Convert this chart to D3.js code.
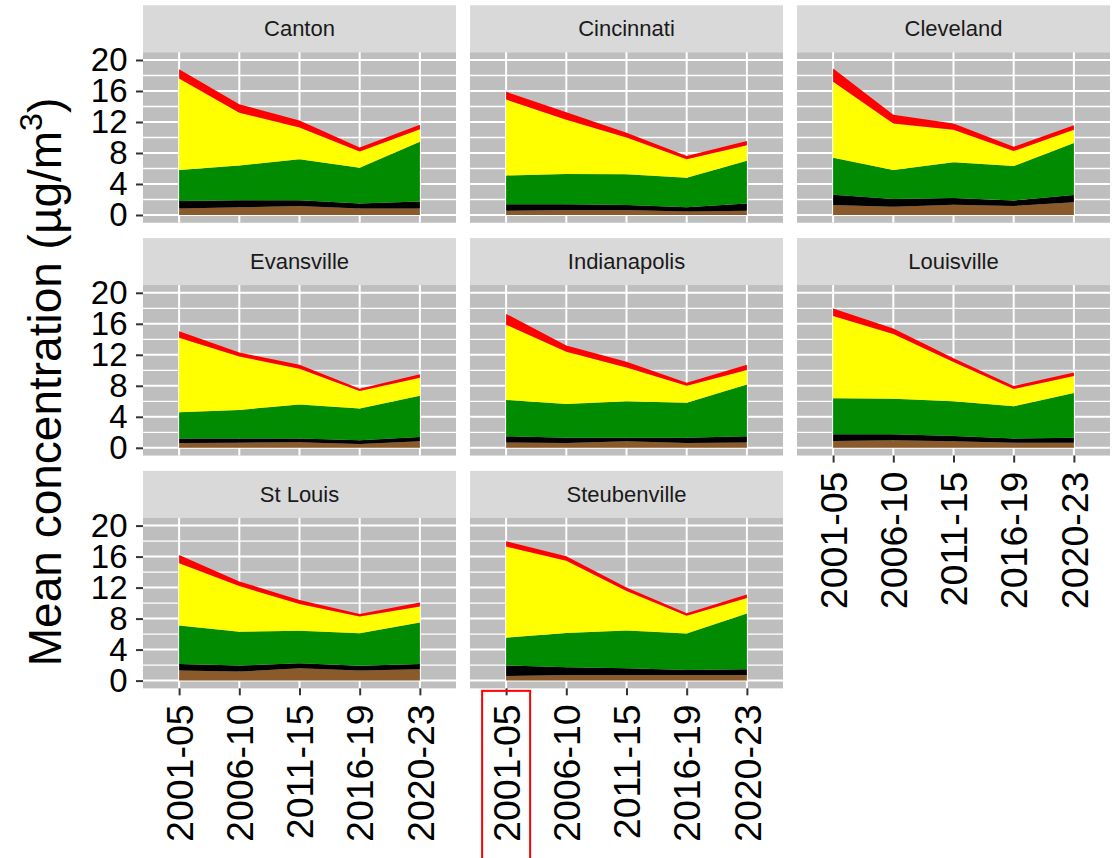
<!DOCTYPE html>
<html>
<head>
<meta charset="utf-8">
<script src="https://cdn.jsdelivr.net/npm/d3@7"></script>
<style>
  body { margin: 0; background: #fff; }
  svg { display: block; font-family: "Liberation Sans", Arial, sans-serif; }
</style>
</head>
<body>
<div id="app"></div>
<script>
const periods = ["2001-05", "2006-10", "2011-15", "2016-19", "2020-23"];
const cities = ["Canton", "Cincinnati", "Cleveland", "Evansville", "Indianapolis", "Louisville", "St Louis", "Steubenville"];

// one row per city (same order as cities), one value per period
const soil = [
  [0.85, 1.0, 1.15, 0.85, 0.85],
  [0.55, 0.65, 0.65, 0.45, 0.55],
  [1.3, 1.07, 1.33, 1.16, 1.64],
  [0.62, 0.66, 0.7, 0.5, 0.84],
  [0.67, 0.62, 0.84, 0.62, 0.67],
  [0.88, 0.97, 0.84, 0.66, 0.66],
  [1.29, 1.16, 1.6, 1.29, 1.47],
  [0.6, 0.73, 0.73, 0.73, 0.73]
];
const ec = [
  [0.95, 0.9, 0.75, 0.65, 0.9],
  [0.85, 0.75, 0.65, 0.55, 0.95],
  [1.3, 1.0, 0.87, 0.7, 0.95],
  [0.57, 0.53, 0.5, 0.47, 0.56],
  [0.81, 0.68, 0.46, 0.68, 0.81],
  [0.86, 0.77, 0.68, 0.53, 0.64],
  [0.86, 0.78, 0.64, 0.61, 0.68],
  [1.34, 1.0, 0.87, 0.65, 0.74]
];
const om = [
  [4.0, 4.5, 5.3, 4.6, 7.7],
  [3.7, 3.9, 3.95, 3.8, 5.5],
  [4.8, 3.75, 4.6, 4.45, 6.7],
  [3.4, 3.7, 4.4, 4.1, 5.3],
  [4.7, 4.35, 4.7, 4.5, 6.7],
  [4.66, 4.6, 4.5, 4.16, 5.77],
  [4.95, 4.36, 4.2, 4.2, 5.35],
  [3.6, 4.4, 4.85, 4.7, 7.2]
];
const sulfate = [
  [11.8, 6.8, 4.1, 2.1, 1.6],
  [9.8, 7.0, 4.75, 2.4, 2.0],
  [9.8, 6.0, 4.2, 1.95, 1.7],
  [9.6, 6.9, 4.6, 2.25, 2.35],
  [9.7, 6.75, 4.35, 2.2, 1.85],
  [10.6, 8.35, 5.05, 2.25, 2.2],
  [8.05, 5.9, 3.45, 2.16, 2.05],
  [11.75, 9.35, 5.1, 2.3, 2.0]
];
const other = [
  [1.2, 1.1, 0.9, 0.5, 0.6],
  [1.0, 0.95, 0.6, 0.4, 0.55],
  [1.7, 1.1, 0.8, 0.55, 0.6],
  [0.85, 0.5, 0.5, 0.3, 0.45],
  [1.4, 0.8, 0.75, 0.4, 0.7],
  [0.96, 0.7, 0.5, 0.37, 0.43],
  [1.05, 0.6, 0.5, 0.34, 0.52],
  [0.7, 0.55, 0.45, 0.3, 0.45]
];
const yTicks = [0, 4, 8, 12, 16, 20];

const species = ["soil", "ec", "om", "sulfate", "other"];
const seriesData = { soil, ec, om, sulfate, other };
const fills = {
  soil: "#8B5A2B",
  ec: "#000000",
  om: "#008B00",
  sulfate: "#FFFF00",
  other: "#FF0000"
};

const width = 1114;
const height = 858;
const panelW = 313;
const panelH = 170.5;
const stripH = 47;
const colStep = 327;
const rowStep = 232.8;
const panelLeft = 143;
const panelTop = 52.25;

const svg = d3
  .select("#app")
  .append("svg")
  .attr("width", width)
  .attr("height", height);

svg.append("rect").attr("width", width).attr("height", height).attr("fill", "#fff");

const x = d3.scalePoint().domain(periods).range([0, panelW]).padding(0.6);
const y = d3.scaleLinear().domain([-1, 21]).range([panelH, 0]);

const stack = d3.stack().keys(species);
const area = d3
  .area()
  .x(d => x(d.data.period))
  .y0(d => y(d[0]))
  .y1(d => y(d[1]));

const panels = cities.map((city, i) => {
  const rows = periods.map((period, j) => {
    const row = { period };
    species.forEach(k => (row[k] = seriesData[k][i][j]));
    return row;
  });
  return {
    city,
    col: i % 3,
    row: Math.floor(i / 3),
    // bottom axis only where nothing sits below
    showX: i + 3 >= cities.length,
    layers: stack(rows)
  };
});

const panel = svg
  .selectAll("g.panel")
  .data(panels)
  .join("g")
  .classed("panel", true)
  .attr("transform", d => `translate(${panelLeft + d.col * colStep}, ${panelTop + d.row * rowStep})`);

// strip
panel
  .append("rect")
  .attr("y", -stripH)
  .attr("width", panelW)
  .attr("height", stripH)
  .attr("fill", "#D9D9D9");
panel
  .append("text")
  .text(d => d.city)
  .attr("x", panelW / 2)
  .attr("y", -stripH / 2)
  .attr("dy", "0.35em")
  .attr("text-anchor", "middle")
  .attr("font-size", 22)
  .attr("fill", "#1A1A1A");

// background + grid
panel
  .append("rect")
  .attr("width", panelW)
  .attr("height", panelH)
  .attr("fill", "#BEBEBE");
panel
  .selectAll("line.minor")
  .data(yTicks.slice(1).map(t => t - 2))
  .join("line")
  .classed("minor", true)
  .attr("x1", 0)
  .attr("x2", panelW)
  .attr("y1", d => y(d))
  .attr("y2", d => y(d))
  .attr("stroke", "#fff")
  .attr("stroke-width", 1.3);
panel
  .selectAll("line.major")
  .data(yTicks)
  .join("line")
  .classed("major", true)
  .attr("x1", 0)
  .attr("x2", panelW)
  .attr("y1", d => y(d))
  .attr("y2", d => y(d))
  .attr("stroke", "#fff")
  .attr("stroke-width", 2);
panel
  .selectAll("line.vgrid")
  .data(periods)
  .join("line")
  .classed("vgrid", true)
  .attr("x1", d => x(d))
  .attr("x2", d => x(d))
  .attr("y1", 0)
  .attr("y2", panelH)
  .attr("stroke", "#fff")
  .attr("stroke-width", 2);

// stacked areas
panel
  .selectAll("path.layer")
  .data(d => d.layers)
  .join("path")
  .classed("layer", true)
  .attr("fill", d => fills[d.key])
  .attr("d", area);

// y axis on first column
panel
  .filter(d => d.col === 0)
  .append("g")
  .call(d3.axisLeft(y).tickValues(yTicks).tickSize(7).tickPadding(8.5))
  .call(g => g.select(".domain").remove())
  .call(g => g.selectAll(".tick line").attr("stroke", "#333").attr("stroke-width", 2))
  .call(g =>
    g
      .selectAll(".tick text")
      .attr("font-size", 33)
      .attr("font-family", "Liberation Sans, Arial, sans-serif")
      .attr("fill", "#000")
  );

// x axis on bottom panels
panel
  .filter(d => d.showX)
  .append("g")
  .attr("transform", `translate(0, ${panelH})`)
  .call(d3.axisBottom(x).tickSize(7))
  .call(g => g.select(".domain").remove())
  .call(g => g.selectAll(".tick line").attr("stroke", "#333").attr("stroke-width", 2))
  .call(g =>
    g
      .selectAll(".tick text")
      .attr("transform", "rotate(-90)")
      .attr("text-anchor", "end")
      .attr("x", -16)
      .attr("y", 0)
      .attr("dy", "0.35em")
      .attr("font-size", 37.5)
      .attr("font-family", "Liberation Sans, Arial, sans-serif")
      .attr("fill", "#000")
  );

// y title
const title = svg
  .append("text")
  .attr("transform", "translate(61, 382) rotate(-90)")
  .attr("text-anchor", "middle")
  .attr("font-size", 46)
  .attr("fill", "#000");
title.append("tspan").text("Mean concentration (µg/m");
title.append("tspan").text("3").attr("font-size", 32).attr("dy", "-0.6em");
title.append("tspan").text(")").attr("dy", "0.42em");

// highlight box around Steubenville first label
const hl = panels.find(d => d.city === "Steubenville");
const hx = panelLeft + hl.col * colStep + x(periods[0]);
const hy = panelTop + hl.row * rowStep + panelH;
svg
  .append("rect")
  .attr("x", hx - 24)
  .attr("y", hy + 2.5)
  .attr("width", 48)
  .attr("height", 200)
  .attr("fill", "none")
  .attr("stroke", "#FF0000")
  .attr("stroke-width", 2);
</script>
</body>
</html>
